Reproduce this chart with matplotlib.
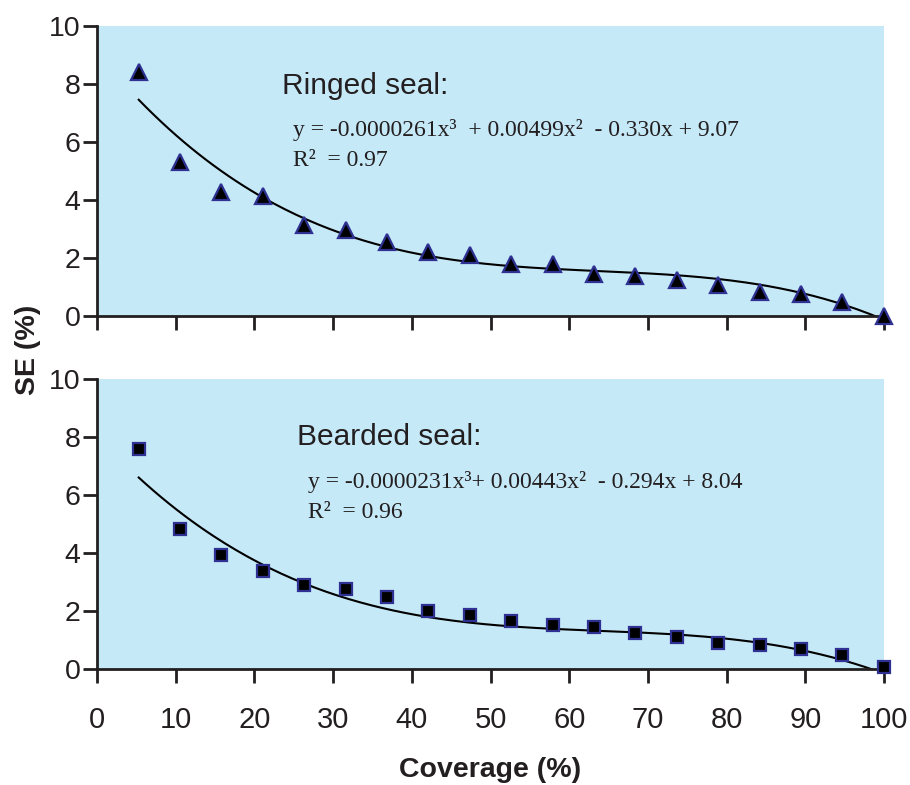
import numpy as np
import matplotlib.pyplot as plt

# coverage (%) of each subsample, 19 steps
coverage = [5.3, 10.5, 15.8, 21.1, 26.3, 31.6, 36.8, 42.1, 47.4, 52.6,
            57.9, 63.2, 68.4, 73.7, 78.9, 84.2, 89.5, 94.7, 100.0]

# SE (%)
se_ringed = [8.4, 5.3, 4.27, 4.13, 3.15, 2.96, 2.54, 2.2, 2.11, 1.78,
             1.78, 1.44, 1.37, 1.23, 1.08, 0.82, 0.76, 0.49, 0.0]
se_bearded = [7.58, 4.83, 3.93, 3.39, 2.9, 2.76, 2.48, 2.01, 1.86, 1.67,
              1.52, 1.44, 1.25, 1.09, 0.91, 0.83, 0.69, 0.48, 0.08]

# trendline coefficients printed on the chart (x^3, x^2, x, const)
coef_ringed = [-0.0000261, 0.00499, -0.330, 9.07]
coef_bearded = [-0.0000231, 0.00443, -0.294, 8.04]

labels = ['Ringed seal:', 'Bearded seal:']
eq_text = ['y = -0.0000261x³  + 0.00499x²  - 0.330x + 9.07',
           'y = -0.0000231x³+ 0.00443x²  - 0.294x + 8.04']
r2_text = ['R²  = 0.97', 'R²  = 0.96']

bg = '#c6e9f8'
edge = '#2e3192'
ink = '#231f20'

fig = plt.figure(figsize=(9.1, 7.85), dpi=100)
ax1 = fig.add_axes([97/910, 1 - 316/785, 787/910, 290/785])
ax2 = fig.add_axes([97/910, 1 - 669/785, 787/910, 290/785])

sans = ['Liberation Sans', 'DejaVu Sans']
serif = ['Liberation Serif', 'DejaVu Serif']

panels = [(ax1, se_ringed, coef_ringed, '^', 11),
          (ax2, se_bearded, coef_bearded, 's', 9)]
label_pos = [(282/910, 86/785), (297/910, 437/785)]
eq_pos = [(293/910, 130/785), (308/910, 482/785)]
r2_pos = [(293/910, 160/785), (308/910, 512/785)]

for i, (ax, se, coef, mk, ms) in enumerate(panels):
    ax.set_facecolor(bg)
    xs = np.linspace(coverage[0], coverage[-1], 200)
    ax.plot(xs, np.polyval(coef, xs), color='black', lw=1.5, zorder=2)
    ax.plot(coverage, se, linestyle='none', marker=mk, markersize=ms,
            markerfacecolor='black', markeredgecolor=edge,
            markeredgewidth=1.6, clip_on=False, zorder=3)
    ax.set_xlim(0, 100)
    ax.set_ylim(0, 10)
    ax.set_xticks(range(0, 101, 10))
    ax.set_yticks(range(0, 11, 2))
    for s in ['top', 'right']:
        ax.spines[s].set_visible(False)
    for s in ['left', 'bottom']:
        ax.spines[s].set_linewidth(2)
        ax.spines[s].set_color(ink)
    ax.tick_params(axis='both', direction='out', length=10, width=2,
                   color=ink)
    ax.tick_params(axis='y', labelsize=20.5, pad=2)
    for t in ax.get_yticklabels():
        t.set_family(sans)
        t.set_color(ink)

    fig.text(label_pos[i][0], 1 - label_pos[i][1], labels[i],
             fontsize=21.5, family=sans, color=ink, va='center', ha='left')
    fig.text(eq_pos[i][0], 1 - eq_pos[i][1], eq_text[i], fontsize=17,
             family=serif, color=ink, va='center', ha='left')
    fig.text(r2_pos[i][0], 1 - r2_pos[i][1], r2_text[i], fontsize=17,
             family=serif, color=ink, va='center', ha='left')

ax1.tick_params(axis='x', labelbottom=False)
ax2.tick_params(axis='x', labelsize=21, pad=17)
for t in ax2.get_xticklabels():
    t.set_family(sans)
    t.set_color(ink)

fig.text(28/910, 1 - 350/785, 'SE (%)', rotation=90, fontsize=20.5,
         fontweight='bold', family=sans, color=ink,
         ha='center', va='center')
fig.text(490/910, 1 - 770/785, 'Coverage (%)', fontsize=20.5,
         fontweight='bold', family=sans, color=ink,
         ha='center', va='center')

fig.savefig('out.png', dpi=100, facecolor='white')
